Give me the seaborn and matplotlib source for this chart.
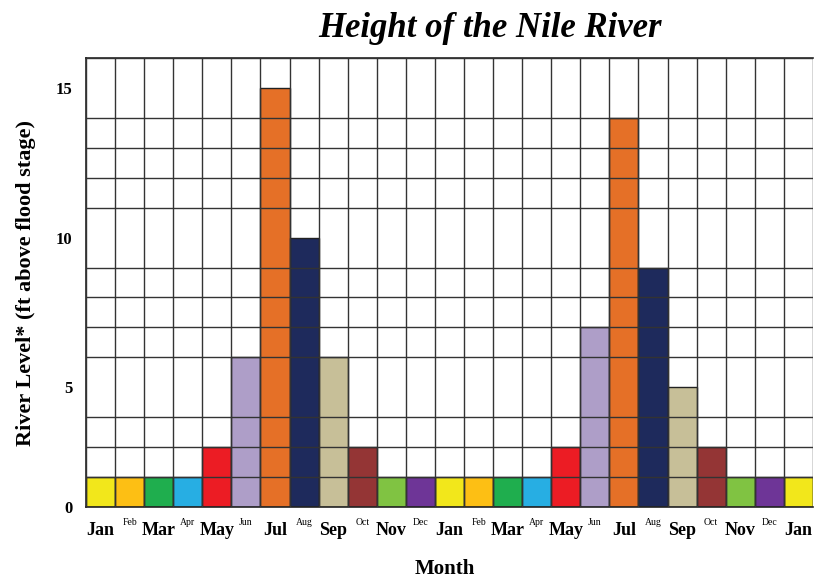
import pandas as pd
import seaborn as sns
import matplotlib.pyplot as plt
from matplotlib.transforms import blended_transform_factory

# data: river level in grid units, two years plus the following January
months = ['Jan', 'Feb', 'Mar', 'Apr', 'May', 'Jun', 'Jul', 'Aug', 'Sep', 'Oct', 'Nov', 'Dec',
          'Jan', 'Feb', 'Mar', 'Apr', 'May', 'Jun', 'Jul', 'Aug', 'Sep', 'Oct', 'Nov', 'Dec', 'Jan']
levels = [1, 1, 1, 1, 2, 5, 14, 9, 5, 2, 1, 1,
          1, 1, 1, 1, 2, 6, 13, 8, 4, 2, 1, 1, 1]
month_colors = {'Jan': '#f2e71b', 'Feb': '#fdbf14', 'Mar': '#1fae4e', 'Apr': '#27aee3',
                'May': '#ec1c24', 'Jun': '#ae9ec8', 'Jul': '#e57027', 'Aug': '#1e2a5c',
                'Sep': '#c7bf98', 'Oct': '#943535', 'Nov': '#80c342', 'Dec': '#6e3597'}
big_months = ['Jan', 'Mar', 'May', 'Jul', 'Sep', 'Nov']
ytick_pos = [0, 4, 9, 14]
ytick_labels = ['0', '5', '10', '15']

df = pd.DataFrame({'pos': range(len(months)), 'month': months, 'level': levels})

sns.set_style('white')
plt.rcParams['font.family'] = ['Liberation Serif', 'DejaVu Serif']
plt.rcParams['text.color'] = 'black'
plt.rcParams['ytick.color'] = 'black'
plt.rcParams['axes.labelcolor'] = 'black'

fig = plt.figure(figsize=(8.14, 5.84), dpi=100)
ax = fig.add_axes([0.1057, 0.1318, 0.8930, 0.7689])

sns.barplot(data=df, x='pos', y='level', hue='month', palette=month_colors,
            saturation=1, width=1.0, edgecolor='#222222', linewidth=1.0,
            dodge=False, legend=False, ax=ax)

ax.set_xlim(-0.5, len(months) - 0.5)
ax.set_ylim(0, 15)

# grid: one cell per month and per unit
ax.set_xticks([i - 0.5 for i in range(len(months) + 1)], minor=True)
ax.set_yticks(range(16), minor=True)
ax.grid(True, which='minor', color='#333333', linewidth=1.0, zorder=3)
ax.set_axisbelow(False)
for b in ax.patches:
    b.set_zorder(1)

ax.set_yticks(ytick_pos)
ax.set_yticklabels(ytick_labels, fontsize=12, fontweight='bold')
ax.tick_params(axis='y', length=0, pad=10)
ax.set_xticks([])
ax.tick_params(axis='x', which='both', length=0)

for side in ['left', 'bottom', 'top']:
    ax.spines[side].set_color('#222222')
    ax.spines[side].set_linewidth(1.2)
ax.spines['right'].set_visible(False)

trans = blended_transform_factory(ax.transData, ax.transAxes)
for i, m in enumerate(months):
    if m in big_months:
        ax.text(i, -0.033, m, transform=trans, ha='center', va='top',
                fontsize=13, fontweight='bold')
    else:
        ax.text(i, -0.025, m, transform=trans, ha='center', va='top', fontsize=7)

ax.set_xlabel('')
ax.set_ylabel('River Level* (ft above flood stage)', fontsize=16, fontweight='bold', labelpad=14)
fig.text(0.547, 0.008, 'Month', ha='center', va='bottom', fontsize=15, fontweight='bold')
fig.text(0.602, 0.952, 'Height of the Nile River', ha='center', va='center',
         fontsize=25, fontweight='bold', style='italic')

plt.savefig('out.png', dpi=100)
